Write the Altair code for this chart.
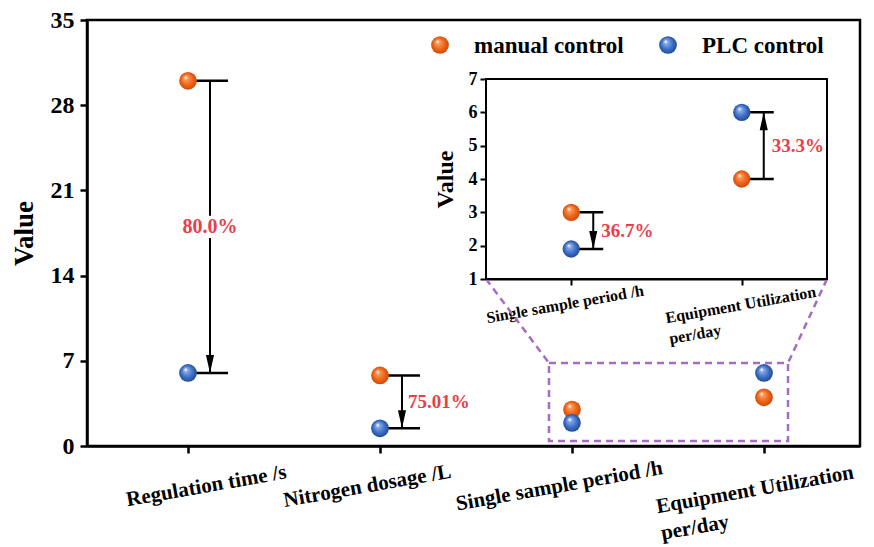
import json
import altair as alt
import pandas as pd

# ---------------- data ----------------
categories = ["Regulation time /s", "Nitrogen dosage /L",
              "Single sample period /h", "Equipment Utilization\nper/day"]
manual = [30.0, 5.8, 3.0, 4.0]
plc = [6.0, 1.45, 1.9, 6.0]
change = ["80.0%", "75.01%", "36.7%", "33.3%"]

inset_categories = ["Single sample period /h", "Equipment Utilization\nper/day"]
inset_manual = [3.0, 4.0]
inset_plc = [1.9, 6.0]
inset_change = ["36.7%", "33.3%"]

series = ["manual control", "PLC control"]
main_ticks = [0, 7, 14, 21, 28, 35]
inset_ticks = [1, 2, 3, 4, 5, 6, 7]

# ---------------- geometry / style ----------------
FONT = "Liberation Serif"
W, H = 773, 426
STEP = 192.0
X0 = 1 - 101 / STEP
X1 = X0 + W / STEP
YD = [0, 35]
INSET_XD = [0, 2]
INSET_YD = [1, 7]
INSET_XR = [399, 740]
INSET_YR = [259, 59]
RED = "#E8404A"
PURPLE = "#A56CC1"


def main_x(px):
    return X0 + px / W * (X1 - X0)


def main_y(py):
    return YD[1] - py / H * (YD[1] - YD[0])


def ball(c_light, c_mid, c_dark):
    return alt.RadialGradient(
        gradient="radial", x1=0.36, y1=0.3, r1=0.02, x2=0.5, y2=0.5, r2=0.52,
        stops=[alt.GradientStop(offset=0, color="#ffffff"),
               alt.GradientStop(offset=0.18, color=c_light),
               alt.GradientStop(offset=0.6, color=c_mid),
               alt.GradientStop(offset=1, color=c_dark)])


ORANGE = ball("#F99A5A", "#F0651A", "#C94A08")
BLUE = ball("#86A9E6", "#3F72C8", "#1F4790")

ARROW_DOWN = "M-0.45,-2L0.45,-2L0,0Z"
ARROW_UP = "M-0.45,2L0.45,2L0,0Z"
LABEL_BOX = "M-1,-0.32L1,-0.32L1,0.32L-1,0.32Z"


def build_df(names, xs, m, p, lab, zoomed):
    df = pd.DataFrame({"name": names, "x": xs, "manual": m, "plc": p, "label": lab})
    df["mid"] = (df["manual"] + df["plc"]) / 2
    df["dir"] = ["down" if a > b else "up" for a, b in zip(m, p)]
    df["online"] = (df["manual"] - df["plc"]).abs() > 10
    df["bracket"] = [n not in zoomed for n in names]
    return df


main_df = build_df(categories, [i + 1 for i in range(len(categories))],
                   manual, plc, change, inset_categories)
inset_df = build_df(inset_categories, [i + 0.5 for i in range(len(inset_categories))],
                    inset_manual, inset_plc, inset_change, [])


def label_expr(names, first):
    return "split(" + json.dumps(names) + "[round(datum.value - %s)], '\\n')" % first


def panel(df, xscale, yscale, xaxis, yaxis, dot_size, hlen, aoff, loff):
    base = alt.Chart(df)
    br = df[df["bracket"]]
    bbase = alt.Chart(br)
    X = alt.X("x:Q", scale=xscale, axis=xaxis)
    Y = alt.Y("manual:Q", scale=yscale, axis=yaxis)
    long = pd.concat([br[["x", "manual"]].rename(columns={"manual": "v"}),
                      br[["x", "plc"]].rename(columns={"plc": "v"})])
    hrule = alt.Chart(long).mark_rule(x2Offset=hlen, strokeWidth=2.5, color="black").encode(
        x="x:Q", x2="x:Q", y="v:Q")
    shaft = bbase.mark_rule(xOffset=aoff, strokeWidth=2, color="black").encode(
        x="x:Q", y="manual:Q", y2="plc:Q")
    head = bbase.mark_point(xOffset=aoff, size=324, filled=True, fill="black",
                            opacity=1, strokeWidth=0).encode(
        x="x:Q", y="plc:Q",
        shape=alt.Shape("dir:N", scale=alt.Scale(domain=["down", "up"],
                                                 range=[ARROW_DOWN, ARROW_UP]),
                        legend=None))
    dots_m = base.mark_circle(size=dot_size, fill=ORANGE, opacity=1).encode(x=X, y=Y)
    dots_p = base.mark_circle(size=dot_size, fill=BLUE, opacity=1).encode(x="x:Q", y="plc:Q")
    side = bbase.transform_filter("!datum.online").mark_text(
        dx=loff, align="left", baseline="middle", font=FONT, fontWeight="bold",
        fontSize=19, color=RED).encode(x="x:Q", y="mid:Q", text="label:N")
    bg = bbase.transform_filter("datum.online").mark_point(
        shape=LABEL_BOX, size=4900, filled=True, fill="white", opacity=1,
        strokeWidth=0, xOffset=aoff).encode(x="x:Q", y="mid:Q")
    on = bbase.transform_filter("datum.online").mark_text(
        dx=aoff, align="center", baseline="middle", font=FONT, fontWeight="bold",
        fontSize=20, color=RED).encode(x="x:Q", y="mid:Q", text="label:N")
    return [hrule, shaft, head, bg, dots_m, dots_p, side, on]


# ---------------- main panel ----------------
main_xscale = alt.Scale(domain=[X0, X1], nice=False, zero=False)
main_yscale = alt.Scale(domain=YD, nice=False)
main_xaxis = alt.Axis(values=[1, 2, 3, 4], title=None, grid=False,
                      labelExpr=label_expr(categories, 1), labelAngle=350,
                      labelFontSize=21, labelFont=FONT, labelFontWeight="bold",
                      labelColor="black", labelLineHeight=27,
                      labelPadding={"condition": {"test": "datum.value == 4", "value": 43},
                                    "value": 22},
                      labelLimit=0, labelFlush=False, labelOverlap=False,
                      labelAlign={"condition": {"test": "datum.value == 4", "value": "left"},
                                  "value": "center"},
                      labelOffset={"condition": [{"test": "datum.value == 1", "value": 16},
                                                 {"test": "datum.value == 4", "value": -110}],
                                   "value": -15},
                      tickSize=7, tickWidth=2.5, tickColor="black",
                      domainWidth=2.5, domainColor="black",
                      labelBaseline="top")
main_yaxis = alt.Axis(values=main_ticks, title="Value", grid=False,
                      labelFontSize=24, labelFont=FONT, labelFontWeight="bold",
                      labelColor="black", labelPadding=6, tickSize=7, tickWidth=2.5,
                      tickColor="black", domainWidth=2.5, domainColor="black",
                      titleFontSize=27, titleFont=FONT, titleFontWeight="bold",
                      titleColor="black", titlePadding=12)

main_layers = panel(main_df, main_xscale, main_yscale, main_xaxis, main_yaxis,
                    314, 40, 22, 28)

# zoom box + connectors (main coordinates)
box_df = pd.DataFrame({"x": [main_x(462)], "x2": [main_x(701)],
                       "y": [main_y(343)], "y2": [main_y(421)]})
zoom_box = alt.Chart(box_df).mark_rect(
    fillOpacity=0, stroke=PURPLE, strokeWidth=2.5, strokeDash=[7, 5]).encode(
    x="x:Q", x2="x2:Q", y="y:Q", y2="y2:Q")
conn_df = pd.DataFrame({"x": [main_x(INSET_XR[0]), main_x(INSET_XR[1])],
                        "y": [main_y(INSET_YR[0])] * 2,
                        "x2": [main_x(462), main_x(701)],
                        "y2": [main_y(343)] * 2})
connectors = alt.Chart(conn_df).mark_rule(
    stroke=PURPLE, strokeWidth=2.5, strokeDash=[7, 5]).encode(
    x="x:Q", y="y:Q", x2="x2:Q", y2="y2:Q")

# legend
leg_df = pd.DataFrame({"s": series})
leg = []
for i, (name, grad) in enumerate(zip(series, [ORANGE, BLUE])):
    d = alt.Chart(leg_df).transform_filter(alt.datum.s == name)
    leg.append(d.mark_circle(size=314, fill=grad, opacity=1).encode(
        x=alt.value(353 + 228 * i), y=alt.value(25)))
    leg.append(d.mark_text(align="left", baseline="middle", font=FONT,
                           fontWeight="bold", fontSize=23, color="black").encode(
        x=alt.value(387 + 228 * i), y=alt.value(26), text="s:N"))

main = alt.layer(*(main_layers + [zoom_box, connectors] + leg))

# ---------------- inset panel ----------------
inset_xscale = alt.Scale(domain=INSET_XD, range=INSET_XR, nice=False, zero=False)
inset_yscale = alt.Scale(domain=INSET_YD, range=INSET_YR, nice=False, zero=False)
inset_xaxis = alt.Axis(values=[0.5, 1.5], title=None, grid=False, orient="bottom",
                       offset=-(H - INSET_YR[0]),
                       labelExpr=label_expr(inset_categories, 0.5), labelAngle=350,
                       labelFontSize=16, labelFont=FONT, labelFontWeight="bold",
                       labelColor="black", labelLineHeight=21,
                       labelPadding={"condition": {"test": "datum.value > 1", "value": 25},
                                     "value": 11},
                       labelLimit=0, labelFlush=False, labelOverlap=False,
                       labelAlign={"condition": {"test": "datum.value > 1", "value": "left"},
                                   "value": "center"},
                       labelOffset={"condition": {"test": "datum.value < 1", "value": -8},
                                    "value": -78},
                       tickSize=6, tickWidth=2, tickColor="black",
                       domainWidth=2, domainColor="black",
                       labelBaseline="top")
inset_yaxis = alt.Axis(values=inset_ticks, title="Value", grid=False, orient="left",
                       offset=-INSET_XR[0], format="d",
                       labelFontSize=18, labelFont=FONT, labelFontWeight="bold",
                       labelColor="black", labelPadding=3, tickSize=6, tickWidth=2,
                       tickColor="black", domainWidth=2, domainColor="black",
                       titleFontSize=24, titleFont=FONT, titleFontWeight="bold",
                       titleColor="black", titlePadding=11)

frame = alt.Chart(pd.DataFrame({"a": [0]})).mark_rect(
    fill="white", stroke="black", strokeWidth=2).encode(
    x=alt.X(datum=INSET_XD[0]), x2=alt.X2(datum=INSET_XD[1]),
    y=alt.Y(datum=INSET_YD[0]), y2=alt.Y2(datum=INSET_YD[1]))

inset_layers = panel(inset_df, inset_xscale, inset_yscale, inset_xaxis, inset_yaxis,
                     300, 32, 22, 30)
inset = alt.layer(frame, *inset_layers)

chart = alt.layer(main, inset).resolve_scale(x="independent", y="independent").properties(
    width=W, height=H,
    autosize=alt.AutoSizeParams(type="none"),
    padding={"left": 87, "top": 20, "right": 14, "bottom": 101},
    background="white",
).configure_view(stroke="black", strokeWidth=2.5).configure_axis(grid=False)

chart.save("out.html", embed_options={"renderer": "svg", "actions": False})
